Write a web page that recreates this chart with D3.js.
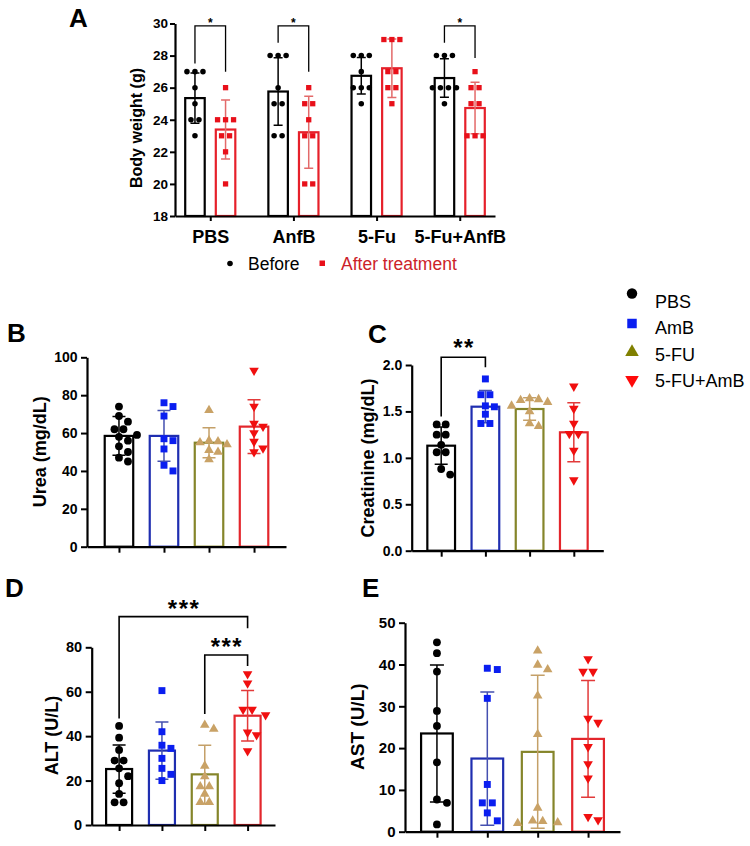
<!DOCTYPE html>
<meta charset="utf-8">
<script src="https://d3js.org/d3.v7.min.js"></script>
<style>
  body { margin: 0; background: #fff; }
  svg text { font-family: "Liberation Sans", Arial, Helvetica, sans-serif; }
</style>
<body>
<div id="canvas"></div>
<script>

// ---------------- data: panel A (body weight) ----------------
var groupsA = ["PBS", "AnfB", "5-Fu", "5-Fu+AnfB"];
var seriesA = ["Before", "After treatment"];
var weightTicks = [18, 20, 22, 24, 26, 28, 30];
var beforeMean = [25.35, 25.76, 26.74, 26.6];
var beforeSD   = [1.57, 2.1, 1.14, 1.2];
var beforePts  = [
    [27, 27, 27, 26, 25, 24, 24, 23],
    [28, 28, 28, 26, 25, 25, 23, 23],
    [28, 28, 28, 27, 26, 26, 26, 25],
    [28, 28, 28, 26, 26, 26, 26, 25]
];
var afterMean = [23.39, 23.22, 27.21, 24.73];
var afterSD   = [1.84, 2.24, 1.82, 1.6];
var afterPts  = [
    [26, 24, 24, 24, 23, 23, 22, 20],
    [26, 25, 25, 24, 23, 23, 20, 20],
    [29, 29, 29, 27, 27, 26, 26, 25],
    [27, 26, 26, 25, 25, 23, 23, 23]
];

// ---------------- data: panels B-E ----------------
var groups = ["PBS", "AmB", "5-FU", "5-FU+AmB"];

var ureaTicks = [0, 20, 40, 60, 80, 100];
var ureaMean = [58.5, 58.5, 54.9, 63.4];
var ureaSD   = [10.2, 13.4, 7.9, 14.2];
var ureaPts  = [
    [74, 69, 66, 62, 62, 59, 58, 56, 53, 50, 47, 45],
    [76, 74, 69, 57, 56, 51.6, 43, 40],
    [72, 56, 55.5, 55, 54, 51, 50, 46],
    [93, 74, 65, 63.5, 60, 55.5, 52, 50]
];

var creatTicks = [0, 0.5, 1, 1.5, 2];
var creatMean = [1.131, 1.551, 1.526, 1.275];
var creatSD   = [0.201, 0.174, 0.12, 0.318];
var creatPts  = [
    [1.36, 1.36, 1.25, 1.25, 1.14, 1.06, 1.06, 0.88, 0.82],
    [1.85, 1.68, 1.68, 1.56, 1.55, 1.47, 1.37, 1.37],
    [1.64, 1.63, 1.62, 1.6, 1.56, 1.5, 1.37, 1.34],
    [1.77, 1.53, 1.37, 1.26, 1.26, 1.08, 0.76]
];

var altTicks = [0, 20, 40, 60, 80];
var altMean = [25.2, 33.5, 22.8, 49.2];
var altSD   = [10.85, 12.9, 13.1, 11.35];
var altPts  = [
    [44.6, 39.3, 33.8, 29, 29, 25.5, 22, 18.8, 14, 10.2, 10.2],
    [60.5, 42, 35.9, 34.5, 30, 25.5, 22.8, 20],
    [45, 43.2, 26.6, 21.8, 17.3, 17.3, 14, 10.2, 10.2],
    [68, 63.8, 52, 52, 49.5, 41.7, 40.5, 33.3]
];

var astTicks = [0, 10, 20, 30, 40, 50];
var astMean = [23.5, 17.5, 19.1, 22.2];
var astSD   = [16.4, 15.95, 18.3, 13.95];
var astPts  = [
    [45.3, 42.7, 38.3, 28.9, 25.3, 16.6, 7.7, 6.9, 1.75],
    [39.1, 38.8, 31.9, 11.3, 6.9, 6.9, 4.5, 2.6],
    [43.3, 39.9, 38.8, 32.5, 23.3, 5.7, 2.6, 2.5, 2.2, 2],
    [41.3, 38.3, 38.3, 27.1, 26.1, 20.3, 16.2, 12.8, 3.6, 2.8]
];

// ---------------- styles ----------------
var RED = "#e6202a";
var groupStyle = [
    {bar: "#000000", err: "#000000", pt: "#000000", sym: "circle"},
    {bar: "#1f2eb0", err: "#4450b0", pt: "#0a1ef0", sym: "square"},
    {bar: "#85852a", err: "#c4a068", pt: "#c9a266", sym: "up"},
    {bar: "#e3262c", err: "#e23a3a", pt: "#f00f0f", sym: "down"}
];

var svg = d3.select("#canvas")
    .append("svg")
    .attr("width", 750)
    .attr("height", 846);

function symbolPath(type, size) {
    var t = type == "circle" ? d3.symbolCircle : type == "square" ? d3.symbolSquare : d3.symbolTriangle;
    return d3.symbol().type(t).size(size)();
}

// spread points sideways like a scatter dot plot (rows of equal values are centred)
function swarm(vals, y, cx, d) {
    var pts = vals.map(function(v) { return {v: v, y: y(v)}; })
        .sort(function(a, b) { return a.y - b.y; });
    var rows = [];
    pts.forEach(function(p) {
        var last = rows[rows.length - 1];
        if (last && Math.abs(last[0].y - p.y) < 0.5) last.push(p);
        else rows.push([p]);
    });
    var placed = [];
    rows.forEach(function(row) {
        var n = row.length;
        for (var k = 0; k < 80; k++) {
            var s = (k % 2 ? 1 : -1) * Math.ceil(k / 2) * d;
            var xs = row.map(function(p, i) { return cx + s + (i - (n - 1) / 2) * d; });
            var ok = row.every(function(p, i) {
                return placed.every(function(q) { return Math.hypot(q.x - xs[i], q.y - p.y) >= d * 0.9; });
            });
            if (ok) {
                row.forEach(function(p, i) { p.x = xs[i]; placed.push(p); });
                break;
            }
        }
    });
    return pts;
}

// ---------------- generic panel ----------------
function drawPanel(p) {
    var g = svg.append("g");
    var y = d3.scaleLinear().domain([p.ticks[0], p.ticks[p.ticks.length - 1]]).range([p.bottom, p.top]);
    var x = d3.scalePoint().domain(p.cats).range([p.left, p.right]).padding(p.pad);

    // bars
    p.bars.forEach(function(b) {
        var cx = x(b.cat) + (b.off || 0);
        g.append("rect")
            .attr("x", cx - p.barW / 2)
            .attr("y", y(b.mean))
            .attr("width", p.barW)
            .attr("height", y(p.ticks[0]) - y(b.mean))
            .attr("fill", "white")
            .attr("stroke", b.bar)
            .attr("stroke-width", 2.2);
        // error bar (mean +/- SD)
        var cw = p.capW / 2;
        g.append("path")
            .attr("d", "M" + cx + "," + y(b.mean - b.sd) + "V" + y(b.mean + b.sd) +
                       "M" + (cx - cw) + "," + y(b.mean + b.sd) + "H" + (cx + cw) +
                       "M" + (cx - cw) + "," + y(b.mean - b.sd) + "H" + (cx + cw))
            .attr("fill", "none")
            .attr("stroke", b.err)
            .attr("stroke-width", 1.5);
        // individual animals
        g.selectAll(null)
            .data(swarm(b.pts, y, cx, p.spread))
            .enter()
            .append("path")
            .attr("d", symbolPath(b.sym, p.symSize[b.sym]))
            .attr("transform", function(d) {
                return "translate(" + d.x + "," + d.y + ")" + (b.sym == "down" ? " rotate(180)" : "");
            })
            .attr("fill", b.pt);
    });

    // axes
    var ya = g.append("g")
        .attr("transform", "translate(" + p.left + ",0)")
        .call(d3.axisLeft(y).tickValues(p.ticks).tickFormat(d3.format(p.fmt))
            .tickSize(p.tick).tickSizeOuter(0).tickPadding(p.tickPad));
    var xa = g.append("g")
        .attr("transform", "translate(0," + p.bottom + ")")
        .call(d3.axisBottom(x).tickSize(p.tick).tickSizeOuter(0).tickPadding(p.xPad || 3)
            .tickFormat(p.xLabels ? null : function() { return ""; }));
    ya.selectAll("text").attr("font-size", p.tickFont);
    xa.selectAll("text").attr("font-size", p.catFont || 12);
    [ya, xa].forEach(function(a) {
        a.select(".domain").attr("stroke-width", 2.2);
        a.selectAll(".tick line").attr("stroke-width", 2);
        a.selectAll("text").attr("font-weight", "bold").attr("fill", "#000")
            .style("font-family", '"Liberation Sans", Arial, sans-serif');
    });

    // significance brackets
    (p.brackets || []).forEach(function(br) {
        var x1 = x(br.from[0]) + (br.from[1] || 0), x2 = x(br.to[0]) + (br.to[1] || 0);
        g.append("path")
            .attr("d", "M" + x1 + "," + y(br.leftEnd) + "V" + y(br.top) + "H" + x2 + "V" + y(br.rightEnd))
            .attr("fill", "none")
            .attr("stroke", "#000")
            .attr("stroke-width", p.brW);
        g.append("text")
            .text(br.label)
            .attr("x", (x1 + x2) / 2 + p.starSpace / 2)
            .attr("y", y(br.top) + p.starDy)
            .attr("text-anchor", "middle")
            .attr("font-size", p.starFont)
            .attr("font-weight", "bold")
            .attr("letter-spacing", p.starSpace);
    });

    // y title
    g.append("text")
        .text(p.title)
        .attr("transform", "translate(" + p.titleX + "," + p.titleY + ") rotate(-90)")
        .attr("text-anchor", "middle")
        .attr("font-size", p.titleFont)
        .attr("font-weight", "bold");

    // panel letter
    g.append("text")
        .text(p.letter)
        .attr("x", p.letterX)
        .attr("y", p.letterY)
        .attr("font-size", 26)
        .attr("font-weight", "bold");
    return {x: x, y: y};
}

// ---------------- panel A ----------------
var barsA = [];
groupsA.forEach(function(c, i) {
    barsA.push({cat: c, off: -15.3, mean: beforeMean[i], sd: beforeSD[i], pts: beforePts[i],
        bar: "#000", err: "#000", pt: "#000", sym: "circle"});
    barsA.push({cat: c, off: 15.3, mean: afterMean[i], sd: afterSD[i], pts: afterPts[i],
        bar: RED, err: "#e36a6a", pt: "#e8101a", sym: "square"});
});
drawPanel({
    cats: groupsA, bars: barsA, ticks: weightTicks, fmt: "d",
    left: 175, right: 495, top: 23.5, bottom: 216, pad: 0.424,
    barW: 19.5, capW: 9, spread: 8, symSize: {circle: 24, square: 28},
    tick: 5, tickPad: 2, tickFont: 13.5, xLabels: true, catFont: 18, xPad: 9,
    brackets: [
        {from: ["PBS", -15.3], to: ["PBS", 15.3], top: 29.85, leftEnd: 27.5, rightEnd: 27.0, label: "*"},
        {from: ["AnfB", -15.3], to: ["AnfB", 15.3], top: 29.85, leftEnd: 28.8, rightEnd: 27.0, label: "*"},
        {from: ["5-Fu+AnfB", -15.3], to: ["5-Fu+AnfB", 15.3], top: 29.85, leftEnd: 28.8, rightEnd: 27.85, label: "*"}
    ],
    brW: 1.3, starFont: 12, starDy: 1, starSpace: 0,
    title: "Body weight (g)", titleX: 142, titleY: 128, titleFont: 16,
    letter: "A", letterX: 69, letterY: 27
});

// legend A
var legA = svg.append("g");
legA.append("circle").attr("cx", 230).attr("cy", 263.5).attr("r", 2.8).attr("fill", "#000");
legA.append("text").text(seriesA[0]).attr("x", 248).attr("y", 269.5).attr("font-size", 17.5);
legA.append("rect").attr("x", 319.5).attr("y", 260.5).attr("width", 5.5).attr("height", 5.5).attr("fill", "#e8101a");
legA.append("text").text(seriesA[1]).attr("x", 341).attr("y", 269.5).attr("font-size", 17.5).attr("fill", "#cc2229");

// ---------------- panels B-E ----------------
function barsFor(mean, sd, pts) {
    return groups.map(function(c, i) {
        var s = groupStyle[i];
        return {cat: c, mean: mean[i], sd: sd[i], pts: pts[i], bar: s.bar, err: s.err, pt: s.pt, sym: s.sym};
    });
}
var symBE = {circle: 48, square: 48, up: 40, down: 40};

drawPanel({
    cats: groups, bars: barsFor(ureaMean, ureaSD, ureaPts), ticks: ureaTicks, fmt: "d",
    left: 87, right: 286, top: 357.3, bottom: 546.7, pad: 0.71,
    barW: 28.5, capW: 13, spread: 9, symSize: symBE,
    tick: 6, tickPad: 3.5, tickFont: 14,
    title: "Urea (mg/dL)", titleX: 46, titleY: 451.7, titleFont: 18,
    letter: "B", letterX: 7, letterY: 342
});

drawPanel({
    cats: groups, bars: barsFor(creatMean, creatSD, creatPts), ticks: creatTicks, fmt: ".1f",
    left: 411.7, right: 603.3, top: 365, bottom: 550.7, pad: 0.667,
    barW: 27.7, capW: 13, spread: 9, symSize: symBE,
    tick: 6, tickPad: 3.5, tickFont: 14,
    brackets: [
        {from: ["PBS"], to: ["AmB"], top: 2.084, leftEnd: 1.444, rightEnd: 1.976, label: "**"}
    ],
    brW: 1.6, starFont: 24, starDy: -1, starSpace: 1.5,
    title: "Creatinine (mg/dL)", titleX: 374, titleY: 458, titleFont: 18,
    letter: "C", letterX: 368, letterY: 343
});

drawPanel({
    cats: groups, bars: barsFor(altMean, altSD, altPts), ticks: altTicks, fmt: "d",
    left: 91.7, right: 275, top: 647.3, bottom: 825, pad: 0.64,
    barW: 26, capW: 13, spread: 9, symSize: symBE,
    tick: 6, tickPad: 3.5, tickFont: 14.5,
    brackets: [
        {from: ["PBS"], to: ["5-FU+AmB"], top: 93.8, leftEnd: 48, rightEnd: 88.6, label: "***"},
        {from: ["5-FU"], to: ["5-FU+AmB"], top: 76.5, leftEnd: 50, rightEnd: 71.6, label: "***"}
    ],
    brW: 1.6, starFont: 24, starDy: 0, starSpace: 1.5,
    title: "ALT (U/L)", titleX: 58, titleY: 735.5, titleFont: 18,
    letter: "D", letterX: 5, letterY: 597
});

drawPanel({
    cats: groups, bars: barsFor(astMean, astSD, astPts), ticks: astTicks, fmt: "d",
    left: 405, right: 620, top: 622.7, bottom: 831.7, pad: 0.634,
    barW: 31.7, capW: 14, spread: 10, symSize: symBE,
    tick: 6, tickPad: 3.5, tickFont: 15,
    title: "AST (U/L)", titleX: 364, titleY: 726.7, titleFont: 19,
    letter: "E", letterX: 362, letterY: 597
});

// ---------------- legend B-E ----------------
var leg = svg.append("g").attr("transform", "translate(632,0)");
var legY = [308, 334, 360.5, 387];
var legSym = [{y: 293.5, size: 85}, {y: 323.5, size: 90}, {y: 352, size: 80}, {y: 380, size: 80}];
var legColor = ["#000", "#0a1ef0", "#808000", "#ff0a0a"];
groups.forEach(function(c, i) {
    var s = groupStyle[i].sym;
    leg.append("path")
        .attr("d", symbolPath(s, legSym[i].size))
        .attr("transform", "translate(0," + legSym[i].y + ")" + (s == "down" ? " rotate(180)" : ""))
        .attr("fill", legColor[i]);
    leg.append("text")
        .text(c)
        .attr("x", 23)
        .attr("y", legY[i])
        .attr("font-size", 18);
});

</script>
</body>
